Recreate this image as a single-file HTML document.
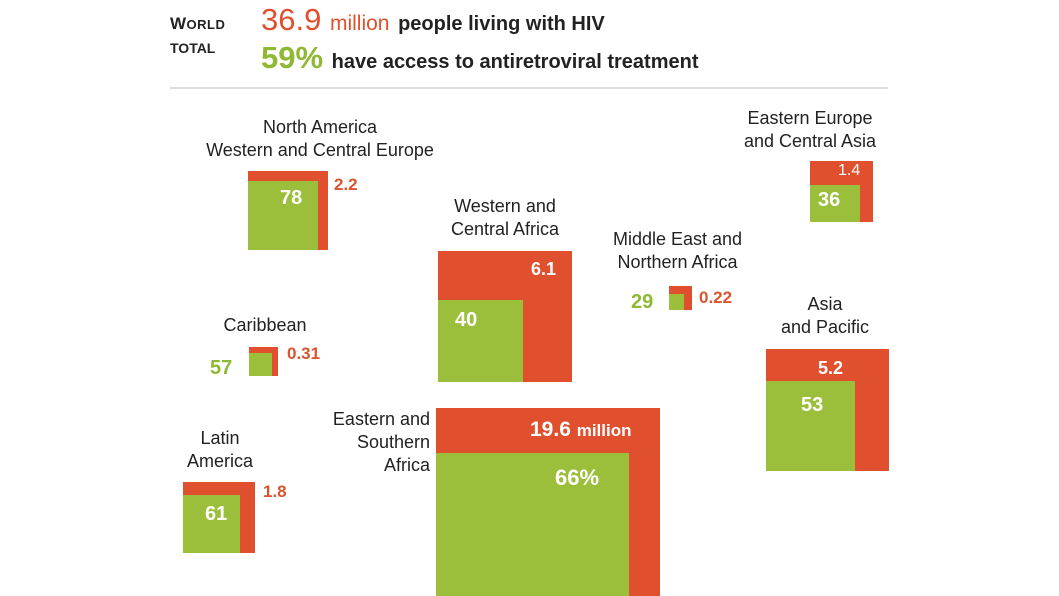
<!DOCTYPE html>
<html style="overflow:hidden;width:1059px;height:596px"><head><meta charset="utf-8"><style>
body{margin:0;width:1059px;height:596px;background:#fff;position:relative;overflow:hidden;font-family:"Liberation Sans",sans-serif;color:#222}
.a{position:absolute;white-space:nowrap}
.r{position:absolute;background:#e0502f}
.g{position:absolute;background:#9bbf3a}
.lbl{position:absolute;font-size:18px;line-height:23px;text-align:center;white-space:nowrap;color:#222}
.w{position:absolute;color:#fff;font-weight:bold;font-size:20px;white-space:nowrap}
.rv{position:absolute;color:#d9542f;font-size:17px;font-weight:bold;white-space:nowrap}
.gv{position:absolute;color:#8fb833;font-size:20px;font-weight:bold;white-space:nowrap}
</style></head><body>
<div class="a" style="left:170px;top:14px;font-weight:bold;font-size:17px;letter-spacing:0.5px">W<span style="font-size:13px">ORLD</span></div>
<div class="a" style="left:170px;top:40px;font-weight:bold;font-size:14px">TOTAL</div>
<div class="a" style="left:261px;top:2px;font-size:31px;color:#e0502f">36.9 <span style="font-size:21px">million</span> <span style="font-size:20px;color:#222;font-weight:bold">people living with HIV</span></div>
<div class="a" style="left:261px;top:40px;font-size:31px;color:#8fb833;font-weight:bold">59% <span style="font-size:20px;color:#222">have access to antiretroviral treatment</span></div>
<div class="a" style="left:170px;top:87px;width:718px;height:2px;background:#ddd"></div>

<div class="lbl" style="left:170px;top:116px;width:300px">North America<br>Western and Central Europe</div>
<div class="r" style="left:248px;top:171px;width:80px;height:79px"></div>
<div class="g" style="left:248px;top:181px;width:70px;height:69px"></div>
<div class="w" style="left:280px;top:187px">78</div>
<div class="rv" style="left:334px;top:175px">2.2</div>

<div class="lbl" style="left:430px;top:195px;width:150px">Western and<br>Central Africa</div>
<div class="r" style="left:438px;top:251px;width:134px;height:131px"></div>
<div class="g" style="left:438px;top:300px;width:85px;height:82px"></div>
<div class="w" style="left:455px;top:309px">40</div>
<div class="w" style="left:531px;top:259px;font-size:18px">6.1</div>

<div class="lbl" style="left:595px;top:228px;width:165px">Middle East and<br>Northern Africa</div>
<div class="r" style="left:669px;top:286px;width:23px;height:24px"></div>
<div class="g" style="left:669px;top:294px;width:15px;height:16px"></div>
<div class="gv" style="left:631px;top:291px">29</div>
<div class="rv" style="left:699px;top:288px">0.22</div>

<div class="lbl" style="left:725px;top:107px;width:170px">Eastern Europe<br>and Central Asia</div>
<div class="r" style="left:810px;top:161px;width:63px;height:61px"></div>
<div class="g" style="left:810px;top:185px;width:50px;height:37px"></div>
<div class="w" style="left:818px;top:189px">36</div>
<div class="w" style="left:838px;top:162px;font-size:16px;font-weight:normal">1.4</div>

<div class="lbl" style="left:780px;top:293px;width:90px">Asia<br>and Pacific</div>
<div class="r" style="left:766px;top:349px;width:123px;height:122px"></div>
<div class="g" style="left:766px;top:381px;width:89px;height:90px"></div>
<div class="w" style="left:801px;top:394px">53</div>
<div class="w" style="left:818px;top:358px;font-size:18px">5.2</div>

<div class="lbl" style="left:205px;top:314px;width:120px">Caribbean</div>
<div class="r" style="left:249px;top:347px;width:29px;height:29px"></div>
<div class="g" style="left:249px;top:353px;width:23px;height:23px"></div>
<div class="gv" style="left:210px;top:357px">57</div>
<div class="rv" style="left:287px;top:344px">0.31</div>

<div class="lbl" style="left:300px;top:408px;width:130px;text-align:right">Eastern and<br>Southern<br>Africa</div>
<div class="r" style="left:436px;top:408px;width:224px;height:188px"></div>
<div class="g" style="left:436px;top:453px;width:193px;height:143px"></div>
<div class="w" style="left:530px;top:418px;font-size:21px">19.6 <span style="font-size:17px">million</span></div>
<div class="w" style="left:555px;top:465px;font-size:22px">66%</div>

<div class="lbl" style="left:180px;top:427px;width:80px">Latin<br>America</div>
<div class="r" style="left:183px;top:482px;width:72px;height:71px"></div>
<div class="g" style="left:183px;top:495px;width:57px;height:58px"></div>
<div class="w" style="left:205px;top:503px">61</div>
<div class="rv" style="left:263px;top:482px">1.8</div>
</body></html>
